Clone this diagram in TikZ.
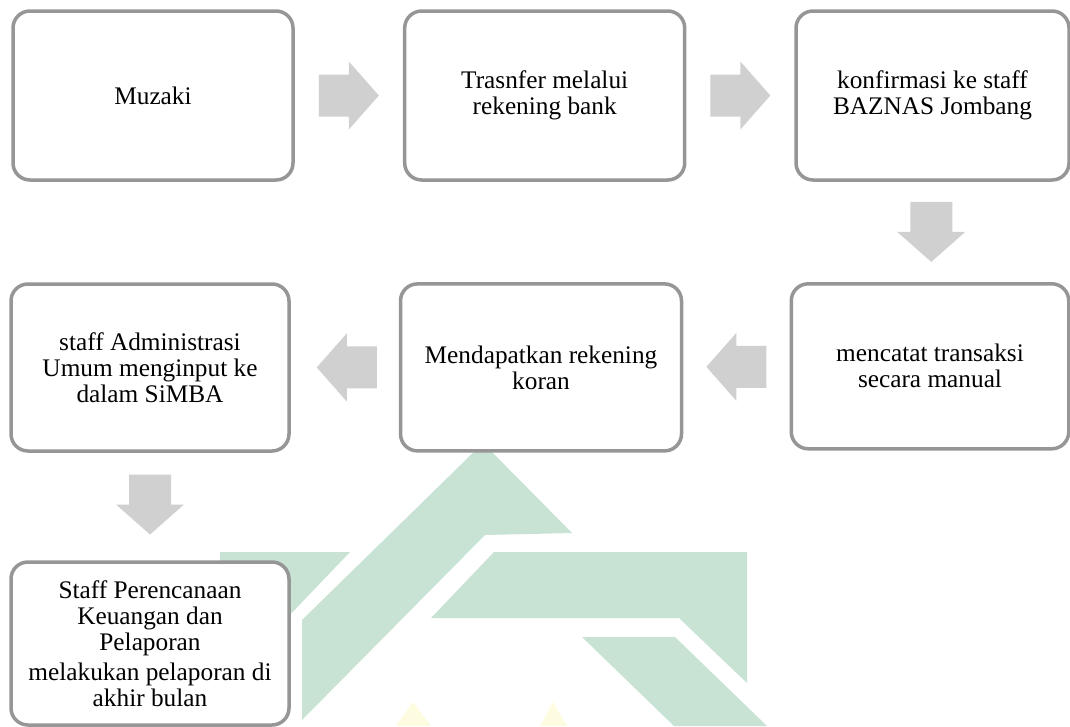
\documentclass[tikz,border=0pt]{standalone}
\usepackage{fontspec}
\setmainfont{Liberation Serif}
\usetikzlibrary{calc}
\definecolor{boxline}{RGB}{150,150,150}
\definecolor{arrowfill}{RGB}{208,208,208}
\definecolor{wmgreen}{RGB}{200,226,212}
\definecolor{wmyellow}{RGB}{254,252,224}
\begin{document}
\begin{tikzpicture}[x=1pt,y=-1pt,
  stepbox/.style={draw=boxline, line width=3.5pt, rounded corners=17pt, fill=white,
    inner sep=0pt, align=center, font=\fontsize{25.3}{26}\selectfont},
  blockarrow/.pic={\fill[arrowfill] (-30,-21) -- (0,-21) -- (0,-34) -- (30,0)
    -- (0,34) -- (0,21) -- (-30,21) -- cycle;},
  wm/.style={fill=wmgreen},
  wmy/.style={fill=wmyellow}
]
\useasboundingbox (0,0) rectangle (1070,726);
\clip (0,0) rectangle (1070,726);
% watermark
\fill[wm] (302,720) -- (302,620) -- (483,443) -- (572,533) -- (485,535) -- cycle;
\fill[wm] (220,552) -- (350,552) -- (285,620) -- (220,620) -- cycle;
\fill[wm] (494,552) -- (747,552) -- (747,683) -- (679,618) -- (431,618) -- cycle;
\fill[wm] (582,637) -- (675,637) -- (767,726) -- (674,726) -- cycle;
\fill[wmy] (413,702) -- (431,726) -- (396,726) -- cycle;
\fill[wmy] (553,702) -- (567,726) -- (540,726) -- cycle;
% boxes
\node[stepbox, minimum width=280pt, minimum height=169pt] (b1) at (153,95.5) {Muzaki};
\node[stepbox, minimum width=280pt, minimum height=169pt] (b2) at (544.7,95.5) {Trasnfer melalui\\rekening bank};
\node[stepbox, minimum width=273pt, minimum height=169pt] (b3) at (932.5,95.5) {konfirmasi ke staff\\BAZNAS Jombang};
\node[stepbox, minimum width=277.5pt, minimum height=165pt] (b6) at (930,366.3) {mencatat transaksi\\secara manual};
\node[stepbox, minimum width=281pt, minimum height=167pt] (b5) at (541,367.4) {Mendapatkan rekening\\koran};
\node[stepbox, minimum width=278pt, minimum height=167pt] (b4) at (150,367.5) {staff Administrasi\\Umum menginput ke\\dalam SiMBA};
\node[stepbox, minimum width=278pt, minimum height=163pt] (b7) at (150,643.5) {Staff Perencanaan\\Keuangan dan\\Pelaporan\\[4pt]melakukan pelaporan di\\akhir bulan};
% block arrows between boxes
\coordinate (a1) at ($(b1.east)!0.5!(b2.west)$);
\coordinate (a2) at ($(b2.east)!0.5!(b3.west)$);
\coordinate (a3) at ($(b3.south)!0.5!(b6.north)$);
\coordinate (a4) at ($(b6.west)!0.5!(b5.east)$);
\coordinate (a5) at ($(b5.west)!0.5!(b4.east)+(2,0)$);
\coordinate (a6) at ($(b4.south)!0.5!(b7.north)+(0,-2)$);
\pic at (a1) {blockarrow};
\pic at (a2) {blockarrow};
\pic[rotate=-90] at (a3) {blockarrow};
\pic[rotate=180] at (a4) {blockarrow};
\pic[rotate=180] at (a5) {blockarrow};
\pic[rotate=-90] at (a6) {blockarrow};
\end{tikzpicture}
\end{document}
